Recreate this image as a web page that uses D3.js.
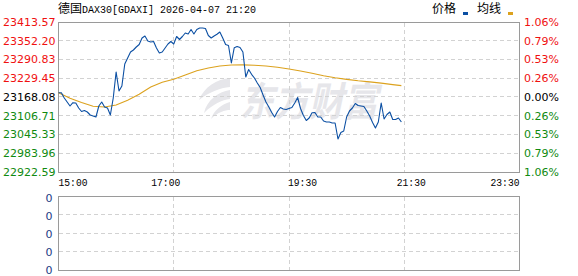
<!DOCTYPE html>
<html><head><meta charset="utf-8">
<script src="https://cdn.jsdelivr.net/npm/d3@7"></script>
<style>html,body{margin:0;padding:0;background:#fff;overflow:hidden}</style>
</head><body><svg id="c" width="578" height="276"></svg>
<script>
// ---------- data ----------
const titleName = "德国";
const titleRest = "DAX30[GDAXI] 2026-04-07 21:20";
const legendNames = ["价格", "均线"];
const prevClose = 23168.08;
const yTickValues = [23413.57, 23352.20, 23290.83, 23229.45, 23168.08, 23106.71, 23045.33, 22983.96, 22922.59];
const pctLabels = ["1.06%", "0.79%", "0.53%", "0.26%", "0.00%", "0.26%", "0.53%", "0.79%", "1.06%"];
const timeTicks = [0, 120, 240, 360, 480];           // axis minutes
const timeLabels = ["15:00", "17:00", "19:30", "21:30", "23:30"];
const volLabels = ["0", "0", "0", "0", "0"];
const stepMinutes = 3;                                 // one price point every 3 axis minutes
const price = [
  23182.15, 23182.15, 23164.81, 23151.71, 23138.62, 23149.42, 23148.44, 23132.07, 23120.62, 23123.89,
  23118.98, 23109.16, 23105.89, 23102.62, 23138.62, 23151.71, 23135.35, 23132.07, 23109.16, 23164.81,
  23249.91, 23187.72, 23204.09, 23276.10, 23295.73, 23315.37, 23321.92, 23331.74, 23339.92, 23361.20,
  23367.75, 23351.38, 23348.11, 23349.74, 23328.47, 23312.10, 23315.37, 23328.47, 23341.56, 23349.74,
  23341.56, 23366.11, 23356.29, 23366.11, 23377.56, 23374.29, 23389.02, 23374.29, 23389.02, 23393.93,
  23393.93, 23392.29, 23369.38, 23361.20, 23367.75, 23373.31, 23380.84, 23361.20, 23339.92, 23336.65,
  23279.37, 23329.45, 23333.38, 23330.10, 23315.37, 23233.54, 23258.09, 23242.38, 23230.27, 23213.90,
  23199.18, 23174.63, 23151.71, 23135.35, 23117.35, 23102.62, 23120.62, 23133.71, 23128.80, 23127.16,
  23130.44, 23133.71, 23148.44, 23166.44, 23130.44, 23107.53, 23091.16, 23099.34, 23116.69, 23117.35,
  23102.62, 23102.62, 23089.52, 23086.25, 23086.25, 23082.98, 23082.98, 23030.61, 23051.88, 23056.79,
  23102.62, 23122.26, 23132.07, 23146.80, 23140.26, 23138.62, 23136.98, 23122.26, 23105.89, 23084.61,
  23066.61, 23086.25, 23148.44, 23096.07, 23110.80, 23118.98, 23094.43, 23094.43, 23099.34, 23086.25
];
const avgIndex = [0, 4, 8, 12, 16, 20, 24, 28, 32, 36, 40, 44, 48, 52, 56, 60, 64, 68, 72, 76, 80, 84, 88, 92, 96, 100, 104, 108, 112, 116, 119];
const avgValues = [
  23182.15, 23163.82, 23150.08, 23137.64, 23135.35, 23141.89, 23157.61, 23176.92, 23200.81, 23216.52,
  23226.02, 23240.09, 23254.17, 23263.00, 23269.55, 23272.82, 23273.15, 23271.84, 23269.55, 23265.29,
  23259.73, 23253.18, 23245.98, 23237.80, 23231.25, 23225.69, 23221.11, 23217.51, 23213.58, 23208.67,
  23205.39
];

// ---------- layout ----------
const L = 58, R = 519, T = 22, B = 172, VT = 196, VB = 270;
const svg = d3.select("#c");
const x = d3.scaleLinear().domain([0, 480]).range([L + 0.5, R + 0.5]);
const y = d3.scaleLinear().domain([yTickValues[8], yTickValues[0]]).range([B, T]);
const crisp = v => Math.floor(v) + 0.5;
const monoFont = "'Liberation Mono','DejaVu Sans Mono',monospace";
const numFont = "'DejaVu Sans',Verdana,sans-serif";
const cjkFont = "'Noto Sans CJK SC','Noto Sans',sans-serif";
const colorFor = v => v > prevClose + 0.001 ? "#f01010" : (v < prevClose - 0.001 ? "#108a10" : "#000");

// ---------- watermark ----------
const wm = svg.append("g").attr("fill", "#e6e6ea");
wm.append("path").attr("d", "M230,78 C217,79 204,87 199,100 C209,92 220,88 230,87 Z");
wm.append("path").attr("d", "M230,90 C218,92 207,100 204,113 C213,104 222,100 230,99 Z");
wm.append("path").attr("d", "M230,102 C222,104 214,110 211,119 C218,112 225,110 230,110 Z");
wm.append("text").attr("transform", "translate(240,116) skewX(-12)")
  .attr("font-family", cjkFont).attr("font-weight", "bold").attr("font-size", 40)
  .attr("textLength", 138).attr("lengthAdjust", "spacingAndGlyphs")
  .text("东方财富");

// ---------- grids ----------
const grid = svg.append("g").attr("stroke", "#d2d2d2").attr("stroke-dasharray", "4,3").attr("fill", "none");
yTickValues.slice(1, -1).forEach(v => {
  grid.append("line").attr("x1", L + 1).attr("x2", R).attr("y1", crisp(y(v))).attr("y2", crisp(y(v)));
});
timeTicks.slice(1, -1).forEach(t => {
  grid.append("line").attr("x1", crisp(x(t))).attr("x2", crisp(x(t))).attr("y1", T + 1).attr("y2", B);
  grid.append("line").attr("x1", crisp(x(t))).attr("x2", crisp(x(t))).attr("y1", VT + 1).attr("y2", VB);
});
const vy = d3.scaleLinear().domain([0, 4]).range([VT, VB]);
[1, 2, 3].forEach(k => {
  grid.append("line").attr("x1", L + 1).attr("x2", R).attr("y1", crisp(vy(k))).attr("y2", crisp(vy(k)));
});

// ---------- frames ----------
svg.append("rect").attr("x", L + 0.5).attr("y", T + 0.5).attr("width", R - L).attr("height", B - T)
  .attr("fill", "none").attr("stroke", "#9a9a9a");
svg.append("rect").attr("x", L + 0.5).attr("y", VT + 0.5).attr("width", R - L).attr("height", VB - VT)
  .attr("fill", "none").attr("stroke", "#9a9a9a");

// ---------- lines ----------
const avgLine = d3.line().x((d, i) => x(avgIndex[i] * stepMinutes)).y(d => y(d));
svg.append("path").datum(avgValues).attr("d", avgLine)
  .attr("fill", "none").attr("stroke", "#dca21e").attr("stroke-width", 1.1);
const priceLine = d3.line().x((d, i) => x(i * stepMinutes)).y(d => y(d));
svg.append("path").datum(price).attr("d", priceLine)
  .attr("fill", "none").attr("stroke", "#0b4fa3").attr("stroke-width", 1.1).attr("stroke-linejoin", "round");

// ---------- left axis labels ----------
svg.append("g").selectAll("text").data(yTickValues).join("text")
  .attr("x", 55.5).attr("y", d => y(d)).attr("dy", "0.36em")
  .attr("text-anchor", "end").attr("font-family", numFont).attr("font-size", 11)
  .attr("fill", d => colorFor(d)).text(d => d.toFixed(2));

// ---------- right percentage labels ----------
svg.append("g").selectAll("text").data(yTickValues).join("text")
  .attr("x", 524).attr("y", d => y(d)).attr("dy", "0.36em")
  .attr("font-family", numFont).attr("font-size", 11)
  .attr("fill", d => colorFor(d)).text((d, i) => pctLabels[i]);

// ---------- time labels ----------
const tickAnchor = ["start", "middle", "start", "middle", "end"];
const tickShift = [0, -8, -1, 7, 0];
svg.append("g").selectAll("text").data(timeTicks).join("text")
  .attr("x", (d, i) => x(d) + tickShift[i]).attr("y", 186)
  .attr("text-anchor", (d, i) => tickAnchor[i])
  .attr("font-family", monoFont).attr("font-size", 11)
  .attr("textLength", 29).attr("lengthAdjust", "spacingAndGlyphs")
  .attr("fill", "#000").text((d, i) => timeLabels[i]);

// ---------- volume labels ----------
const vl = d3.scaleLinear().domain([0, 4]).range([VT + 2, VB]);
svg.append("g").selectAll("text").data(volLabels).join("text")
  .attr("x", 52.5).attr("y", (d, i) => vl(i)).attr("dy", "0.36em")
  .attr("text-anchor", "end").attr("font-family", numFont).attr("font-size", 11)
  .attr("fill", "#1c3a86").text(d => d);

// ---------- title ----------
svg.append("text").attr("x", 58).attr("y", 13).attr("font-family", cjkFont).attr("font-size", 12)
  .attr("fill", "#000").text(titleName);
svg.append("text").attr("x", 82).attr("y", 13).attr("font-family", monoFont).attr("font-size", 11.5)
  .attr("textLength", 174).attr("lengthAdjust", "spacingAndGlyphs")
  .attr("fill", "#000").text(titleRest);

// ---------- legend ----------
const legendColors = ["#0b4fa3", "#dca21e"];
const lg = svg.append("g");
legendNames.forEach((n, i) => {
  const ox = 432 + i * 45;
  lg.append("text").attr("x", ox).attr("y", 13).attr("font-family", cjkFont).attr("font-size", 12)
    .attr("fill", "#000").text(n);
  lg.append("rect").attr("x", ox + 31).attr("y", 12).attr("width", 5).attr("height", 3)
    .attr("fill", legendColors[i]);
});
</script></body></html>
